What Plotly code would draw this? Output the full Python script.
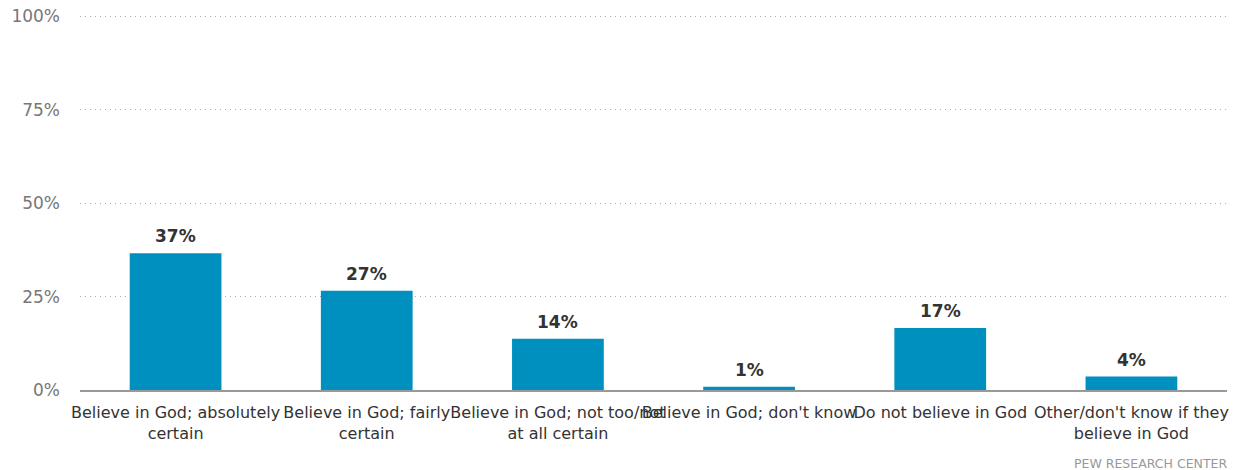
import plotly.graph_objects as go

categories = [
    "Believe in God; absolutely<br>certain",
    "Believe in God; fairly<br>certain",
    "Believe in God; not too/not<br>at all certain",
    "Believe in God; don't know",
    "Do not believe in God",
    "Other/don't know if they<br>believe in God",
]
values = [36.6, 26.6, 13.7, 0.9, 16.6, 3.6]
labels = ["37%", "27%", "14%", "1%", "17%", "4%"]
y_ticks = [0, 25, 50, 75, 100]
y_tick_labels = ["0%", "25%", "50%", "75%", "100%"]

FONT = "DejaVu Sans, Verdana, sans-serif"

fig = go.Figure(
    go.Bar(
        x=categories,
        y=values,
        marker=dict(color="#0090c0", line=dict(width=0)),
        hoverinfo="skip",
    )
)

for cat, val, lab in zip(categories, values, labels):
    fig.add_annotation(
        x=cat, y=val, text="<b>" + lab + "</b>",
        xref="x", yref="y",
        yanchor="bottom", yshift=5,
        showarrow=False,
        font=dict(family=FONT, size=17, color="#333333"),
    )

fig.update_layout(
    width=1238,
    height=470,
    margin=dict(l=80, r=11, t=15, b=80, autoexpand=False),
    plot_bgcolor="white",
    paper_bgcolor="white",
    bargap=0.52,
    showlegend=False,
    font=dict(family=FONT),
)

fig.update_xaxes(
    tickfont=dict(family=FONT, size=16, color="#333333"),
    tickangle=0,
    showline=True,
    linecolor="#999999",
    linewidth=1.5,
    showgrid=False,
    ticks="",
    ticklabelstandoff=7,
    automargin=False,
)

fig.update_yaxes(
    range=[0, 100.4],
    tickvals=y_ticks,
    ticktext=y_tick_labels,
    tickfont=dict(family=FONT, size=17, color="#777777"),
    showgrid=True,
    gridcolor="#aaaaaa",
    griddash="1px,4px",
    gridwidth=1,
    zeroline=False,
    ticks="",
    ticklabelstandoff=19,
    automargin=False,
)

fig.add_annotation(
    text="PEW RESEARCH CENTER",
    xref="paper", yref="paper",
    x=1, y=0,
    xshift=2,
    yshift=-73,
    xanchor="right", yanchor="middle",
    showarrow=False,
    font=dict(family=FONT, size=12.5, color="#999999"),
)

fig.write_html(
    "out.html",
    config={"displayModeBar": False},
    post_script="document.body.style.margin='0';",
)
